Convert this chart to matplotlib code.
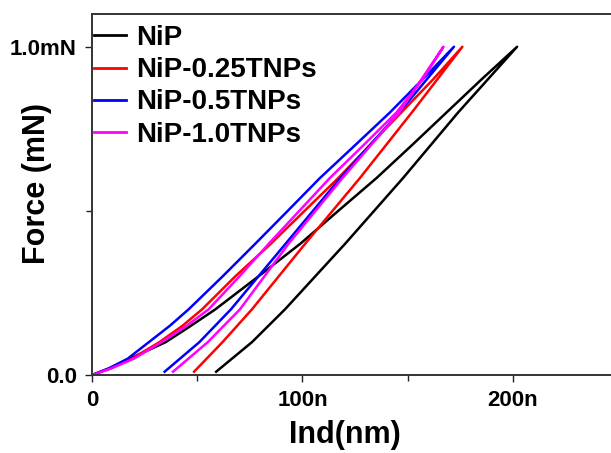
import numpy as np
import matplotlib
matplotlib.use('Agg')
import matplotlib.pyplot as plt

plt.rcParams['font.family'] = ['Liberation Sans', 'DejaVu Sans']
plt.rcParams['font.weight'] = 'bold'

# force levels (mN)
loadF = [0, 0.02, 0.05, 0.1, 0.15, 0.2, 0.3, 0.4, 0.5, 0.6, 0.7, 0.8, 0.9, 1.0]
unloadF = [1.0, 0.8, 0.6, 0.4, 0.2, 0.1, 0.01]

# indentation depth (nm) for each sample
nip_load = [0, 8, 18, 35, 47, 58.6, 79, 99, 117, 135.2, 152, 168.5, 185, 202]
nip_unload = [202, 174, 147.8, 120.3, 91.7, 76, 59]

tnp025_load = [0, 9, 19, 32, 43, 52.3, 68, 85, 101, 117, 132, 147, 162, 176]
tnp025_unload = [176, 152, 127.3, 101.3, 76, 62, 48.5]

tnp05_load = [0, 8, 17, 27, 37, 45.9, 62, 77.6, 93, 108.3, 125, 141.6, 157, 172]
tnp05_unload = [172, 146, 118, 92, 66, 51, 34.5]

tnp10_load = [0, 9, 20, 33, 45, 55.4, 70, 84, 98.5, 113, 129, 144.7, 157, 167]
tnp10_unload = [167, 146, 119, 93.4, 70.3, 55, 38.5]

labels = ['NiP', 'NiP-0.25TNPs', 'NiP-0.5TNPs', 'NiP-1.0TNPs']
colors = ['black', '#ff0000', '#0000ff', '#ff00ff']
loads = [nip_load, tnp025_load, tnp05_load, tnp10_load]
unloads = [nip_unload, tnp025_unload, tnp05_unload, tnp10_unload]


def main():
    fig = plt.figure(figsize=(6.11, 4.53), dpi=100)
    ax = fig.add_axes([0.1506, 0.1722, 0.861, 0.797])

    for lab, col, ld, ul in zip(labels, colors, loads, unloads):
        x = list(ld) + list(ul)
        y = list(loadF) + list(unloadF)
        ax.plot(x, y, color=col, lw=1.8, label=lab)

    ax.set_xlim(0, 250)
    ax.set_ylim(0, 1.1)

    ax.set_xticks([0, 100, 200])
    ax.set_xticklabels(['0', '100n', '200n'])
    ax.set_xticks([50, 150], minor=True)
    ax.set_yticks([0, 1.0])
    ax.set_yticklabels(['0.0', '1.0mN'])
    ax.set_yticks([0.5], minor=True)

    ax.tick_params(which='both', direction='out', top=False, right=False,
                   width=1.0, colors='#222222')
    ax.tick_params(which='major', length=5, labelsize=16, pad=6)
    ax.tick_params(which='minor', length=4)
    for lbl in ax.get_xticklabels() + ax.get_yticklabels():
        lbl.set_fontweight('bold')
        lbl.set_color('black')

    for side in ['left', 'bottom', 'top', 'right']:
        ax.spines[side].set_linewidth(1.4)
        ax.spines[side].set_color('#333333')

    ax.set_xlabel('Ind(nm)', fontsize=22, fontweight='bold')
    ax.set_ylabel('Force (mN)', fontsize=22, fontweight='bold')
    ax.xaxis.set_label_coords(0.481, -0.125)
    ax.yaxis.set_label_coords(-0.076, 0.53)

    leg = ax.legend(loc='upper left', bbox_to_anchor=(-0.027, 1.015), frameon=False,
                    prop={'size': 20, 'weight': 'bold'}, handlelength=1.15,
                    handletextpad=0.35, labelspacing=0.22, borderaxespad=0.2)
    for line in leg.get_lines():
        line.set_linewidth(2.0)

    fig.savefig('out.png', dpi=100)


if __name__ == '__main__':
    main()
